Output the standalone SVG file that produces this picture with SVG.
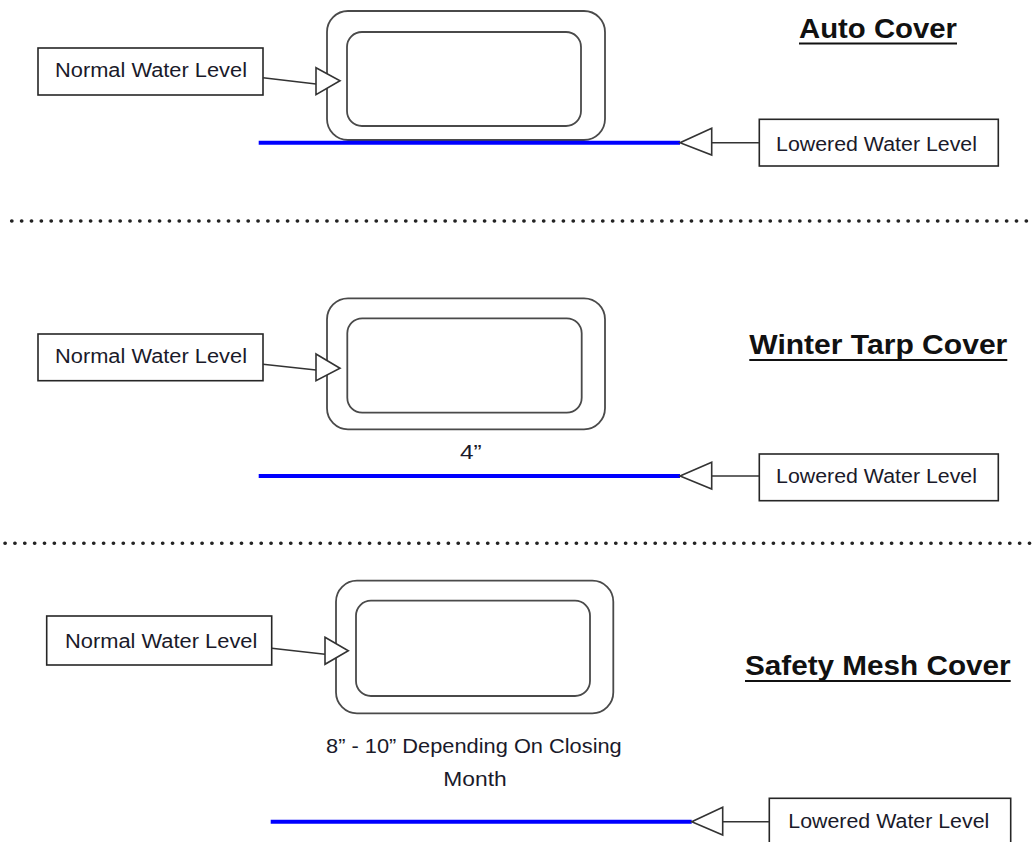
<svg xmlns="http://www.w3.org/2000/svg" width="1034" height="842" viewBox="0 0 1034 842">
  <style>
    .box { fill: #ffffff; stroke: #262626; stroke-width: 1.6; }
    .pool { fill: #ffffff; stroke: #4a4a4a; stroke-width: 1.8; }
    .lbl { font-family: "Liberation Sans", Arial, sans-serif; font-size: 20px; fill: #1a1a2a; text-anchor: middle; }
    .ttl { font-family: "Liberation Sans", Arial, sans-serif; font-size: 27px; font-weight: bold; fill: #111111; text-anchor: middle; }
    .ul { stroke: #111111; stroke-width: 2; }
    .water { stroke: #0000ff; stroke-width: 4; fill: none; }
    .conn { stroke: #333333; stroke-width: 1.6; fill: none; }
    .head { fill: #ffffff; stroke: #333333; stroke-width: 1.6; stroke-linejoin: miter; }
    .dots { stroke: #222222; stroke-width: 3.6; stroke-linecap: round; stroke-dasharray: 0.2 9.65; fill: none; }
  </style>
  <rect width="1034" height="842" fill="#ffffff"/>

  <!-- Section separators -->
  <g id="separators">
    <line class="dots" x1="11.7" y1="221" x2="1034" y2="221"/>
    <line class="dots" x1="5" y1="543.3" x2="1034" y2="543.3"/>
  </g>

  <!-- Section 1: Auto Cover -->
  <g id="pool-auto">
    <rect class="pool" x="327" y="11" width="278" height="129" rx="21"/>
    <rect class="pool" x="347" y="32" width="234" height="94" rx="15"/>
  </g>
  <g id="title-auto">
    <text class="ttl" x="878" y="38.3" textLength="158" lengthAdjust="spacingAndGlyphs">Auto Cover</text>
    <line class="ul" x1="799" y1="43.5" x2="957" y2="43.5"/>
  </g>
  <g id="normal-auto">
    <rect class="box" x="38" y="48" width="225" height="47"/>
    <text class="lbl" x="151" y="77.3" font-size="21" textLength="192" lengthAdjust="spacingAndGlyphs">Normal Water Level</text>
  </g>
  <g id="lowered-auto">
    <rect class="box" x="759.3" y="119.3" width="239" height="46.7"/>
    <text class="lbl" x="876.5" y="150.7" textLength="201" lengthAdjust="spacingAndGlyphs">Lowered Water Level</text>
  </g>

  <!-- Section 2: Winter Tarp Cover -->
  <g id="pool-tarp">
    <rect class="pool" x="327" y="298.3" width="278" height="131" rx="21"/>
    <rect class="pool" x="347.3" y="318.3" width="234.4" height="94.4" rx="15"/>
  </g>
  <g id="title-tarp">
    <text class="ttl" x="878.3" y="354" textLength="258" lengthAdjust="spacingAndGlyphs">Winter Tarp Cover</text>
    <line class="ul" x1="749.3" y1="360" x2="1007.3" y2="360"/>
  </g>
  <g id="normal-tarp">
    <rect class="box" x="38" y="334" width="225" height="46.7"/>
    <text class="lbl" x="151" y="362.7" font-size="21" textLength="192" lengthAdjust="spacingAndGlyphs">Normal Water Level</text>
  </g>
  <g id="lowered-tarp">
    <rect class="box" x="759.3" y="454" width="239" height="46.7"/>
    <text class="lbl" x="876.5" y="483.3" textLength="201" lengthAdjust="spacingAndGlyphs">Lowered Water Level</text>
  </g>
  <g id="depth-tarp">
    <text class="lbl" x="470.8" y="459" textLength="21.7" lengthAdjust="spacingAndGlyphs">4”</text>
  </g>

  <!-- Section 3: Safety Mesh Cover -->
  <g id="pool-mesh">
    <rect class="pool" x="336" y="580.7" width="277.3" height="132.6" rx="21"/>
    <rect class="pool" x="356" y="600.7" width="234" height="95.3" rx="15"/>
  </g>
  <g id="title-mesh">
    <text class="ttl" x="877.8" y="675" textLength="265.7" lengthAdjust="spacingAndGlyphs">Safety Mesh Cover</text>
    <line class="ul" x1="745" y1="681" x2="1010.7" y2="681"/>
  </g>
  <g id="normal-mesh">
    <rect class="box" x="46.7" y="616" width="225" height="49"/>
    <text class="lbl" x="161.2" y="647.7" font-size="21" textLength="192.3" lengthAdjust="spacingAndGlyphs">Normal Water Level</text>
  </g>
  <g id="lowered-mesh">
    <rect class="box" x="769.3" y="798.3" width="241.4" height="50"/>
    <text class="lbl" x="888.8" y="828.3" textLength="201" lengthAdjust="spacingAndGlyphs">Lowered Water Level</text>
  </g>
  <g id="depth-mesh">
    <text class="lbl" x="473.9" y="753.3" font-size="21" textLength="295.7" lengthAdjust="spacingAndGlyphs">8” - 10” Depending On Closing</text>
    <text class="lbl" x="475" y="786" font-size="21" textLength="63.4" lengthAdjust="spacingAndGlyphs">Month</text>
  </g>

  <!-- Water lines and connectors -->
  <g id="connectors">
    <line class="water" x1="258.7" y1="142.7" x2="680" y2="142.7"/>
    <line class="water" x1="258.7" y1="476" x2="680" y2="476"/>
    <line class="water" x1="270.7" y1="821.7" x2="691.7" y2="821.7"/>

    <!-- Normal level arrows -->
    <line class="conn" x1="263" y1="77.7" x2="316" y2="84"/>
    <polygon class="head" points="316,67.7 340,80.7 316,94.7"/>
    <line class="conn" x1="263" y1="364.3" x2="316" y2="370"/>
    <polygon class="head" points="316,354 340,368.3 316,380.7"/>
    <line class="conn" x1="271.7" y1="648.3" x2="325" y2="654.3"/>
    <polygon class="head" points="325,637.3 348.3,650.7 325,664.3"/>

    <!-- Lowered level arrows -->
    <line class="conn" x1="711.7" y1="142.7" x2="759.3" y2="142.7"/>
    <polygon class="head" points="711.7,128.3 680,142.7 711.7,155"/>
    <line class="conn" x1="711.7" y1="476" x2="759.3" y2="476"/>
    <polygon class="head" points="711.7,462.3 680,476 711.7,489"/>
    <line class="conn" x1="722.7" y1="821.7" x2="769.3" y2="821.7"/>
    <polygon class="head" points="722.7,807.3 691.7,821.7 722.7,835"/>
  </g>
</svg>
